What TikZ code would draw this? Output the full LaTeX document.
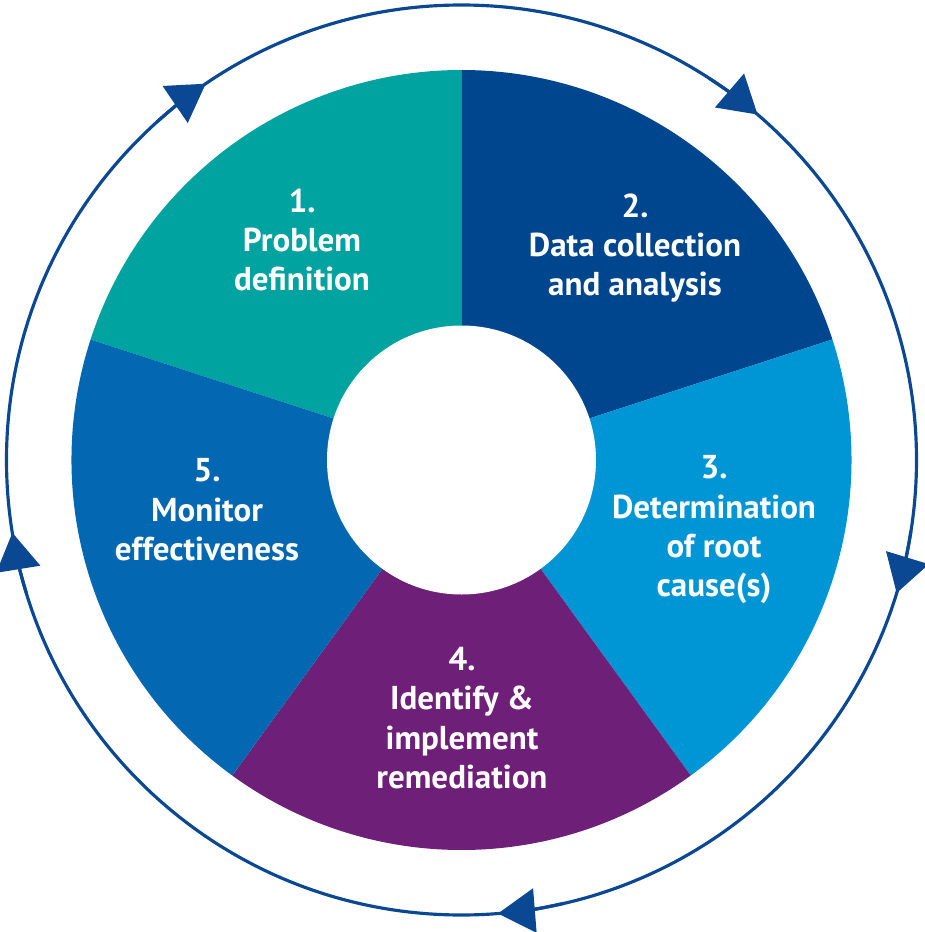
\documentclass[tikz,border=0pt]{standalone}
\usepackage{fontspec}
\setmainfont{PT Sans}
\usetikzlibrary{arrows.meta}

\definecolor{stepteal}{HTML}{00A39F}
\definecolor{stepnavy}{HTML}{00468E}
\definecolor{stepsky}{HTML}{0096D6}
\definecolor{steppurple}{HTML}{6E2078}
\definecolor{stepblue}{HTML}{0467B2}
\definecolor{ringblue}{HTML}{0B4893}

\tikzset{
  steplabel/.style={text=white, align=center, font=\fontsize{9.4}{11.2}\selectfont\bfseries},
  ring/.style={draw=ringblue, line width=0.9pt},
  ringtip/.style={ring, -{Triangle[length=3.7mm, width=4.4mm]}}
}

\begin{document}
\begin{tikzpicture}
	  \useasboundingbox (-4.615,-4.72) rectangle (4.635,4.60);

	  % outer cycle
	  \draw [ ring ] (0,0) circle [radius=4.55];
	  \draw [ ringtip ] (132:4.55) arc [start angle=132, end angle=124.2, radius=4.55];
	  \draw [ ringtip ] (57:4.55) arc [start angle=57, end angle=49.4, radius=4.55];
	  \draw [ ringtip ] (-9:4.55) arc [start angle=-9, end angle=-17, radius=4.55];
	  \draw [ ringtip ] (-77:4.55) arc [start angle=-77, end angle=-85.4, radius=4.55];
	  \draw [ ringtip ] (-163:4.55) arc [start angle=-163, end angle=-170.8, radius=4.55];

	  % the five steps
	  \fill [ stepteal ] (0,0) -- (90:3.9) arc [start angle=90, end angle=162, radius=3.9] -- cycle;
	  \fill [ stepnavy ] (0,0) -- (18:3.9) arc [start angle=18, end angle=90, radius=3.9] -- cycle;
	  \fill [ stepsky ] (0,0) -- (-54:3.9) arc [start angle=-54, end angle=18, radius=3.9] -- cycle;
	  \fill [ steppurple ] (0,0) -- (-126:3.9) arc [start angle=-126, end angle=-54, radius=3.9] -- cycle;
	  \fill [ stepblue ] (0,0) -- (162:3.9) arc [start angle=162, end angle=234, radius=3.9] -- cycle;
	  \fill [ white ] (0,0) circle [radius=1.345];

	  \node [ steplabel ] (define) at (-1.595,2.20) {1.\\Problem\\definition};
	  \node [ steplabel ] (collect) at (1.735,2.12) {2.\\Data collection\\and analysis};
	  \node [ steplabel ] (rootcause) at (2.525,-0.70) {3.\\Determination\\of root\\cause(s)};
	  \node [ steplabel ] (remedy) at (0.005,-2.58) {4.\\Identify \&\\implement\\remediation};
	  \node [ steplabel ] (monitor) at (-2.545,-0.50) {5.\\Monitor\\effectiveness};
	\end{tikzpicture}
\end{document}
